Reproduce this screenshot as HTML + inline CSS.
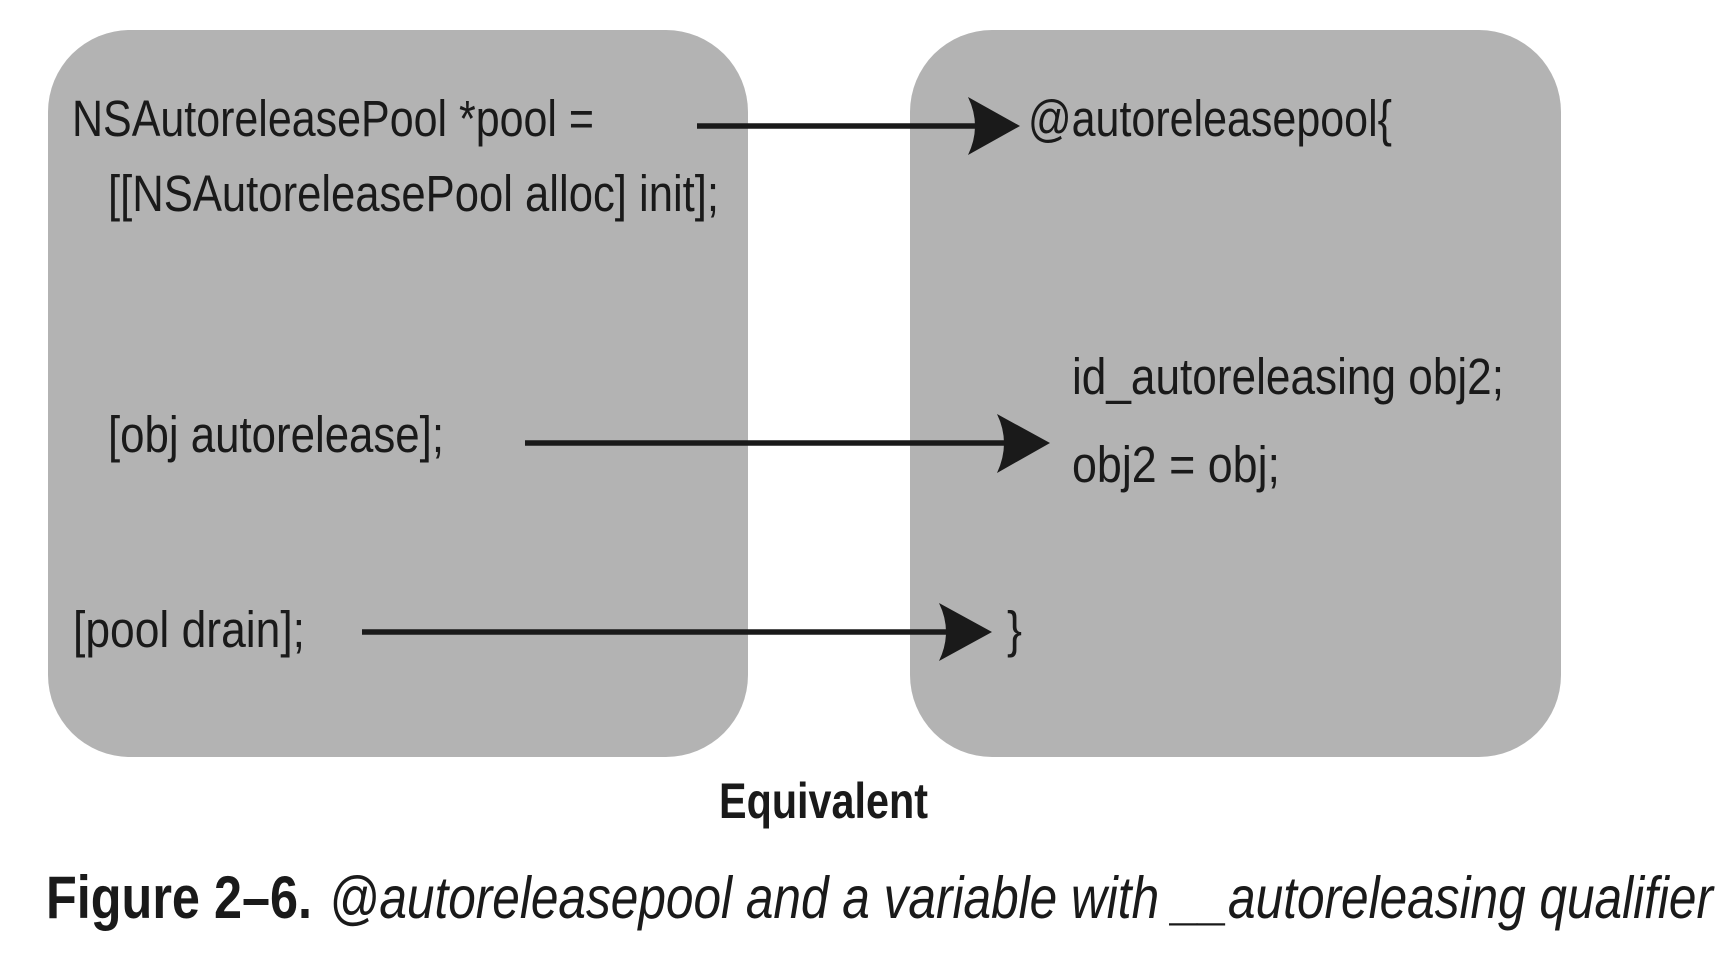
<!DOCTYPE html>
<html><head><meta charset="utf-8"><style>
html,body{margin:0;padding:0;background:#fff;}
svg{display:block}
text{font-family:"Liberation Sans Narrow","Liberation Sans",sans-serif;fill:#1a1a1a;}
</style></head><body>
<svg width="1732" height="956" viewBox="0 0 1732 956" xmlns="http://www.w3.org/2000/svg">
<rect x="48" y="30" width="700" height="727" rx="82" ry="82" fill="#b3b3b3"/>
<rect x="910" y="30" width="651" height="727" rx="82" ry="82" fill="#b3b3b3"/>
<g font-size="51">
<text x="72" y="136" textLength="522" lengthAdjust="spacingAndGlyphs">NSAutoreleasePool *pool =</text>
<text x="108" y="211" textLength="611" lengthAdjust="spacingAndGlyphs">[[NSAutoreleasePool alloc] init];</text>
<text x="108" y="452" textLength="336" lengthAdjust="spacingAndGlyphs">[obj autorelease];</text>
<text x="73" y="647" textLength="232" lengthAdjust="spacingAndGlyphs">[pool drain];</text>
<text x="1028" y="136" textLength="364" lengthAdjust="spacingAndGlyphs">@autoreleasepool{</text>
<text x="1072" y="394" textLength="432" lengthAdjust="spacingAndGlyphs">id_autoreleasing obj2;</text>
<text x="1072" y="482" textLength="208" lengthAdjust="spacingAndGlyphs">obj2 = obj;</text>
<text x="1007" y="647" textLength="15" lengthAdjust="spacingAndGlyphs">}</text>
</g>
<text x="719" y="818" font-size="50" font-weight="bold" textLength="209" lengthAdjust="spacingAndGlyphs">Equivalent</text>
<text x="46" y="918" font-size="60" font-weight="bold" textLength="266" lengthAdjust="spacingAndGlyphs">Figure 2–6.</text>
<text x="329" y="918" font-size="59" font-style="italic" textLength="1384" lengthAdjust="spacingAndGlyphs">@autoreleasepool and a variable with __autoreleasing qualifier</text>
<g stroke="#1a1a1a" stroke-width="5.5">
<line x1="697" y1="126" x2="990" y2="126"/>
<line x1="525" y1="443" x2="1020" y2="443"/>
<line x1="362" y1="632" x2="965" y2="632"/>
</g>
<g fill="#1a1a1a">
<path d="M1020 126 L968 97 Q982 126 968 155 Z"/>
<path d="M1050 443 L997 414 Q1011 443 997 473 Z"/>
<path d="M992 632 L939 603 Q953 632 939 661 Z"/>
</g>
</svg>
</body></html>
